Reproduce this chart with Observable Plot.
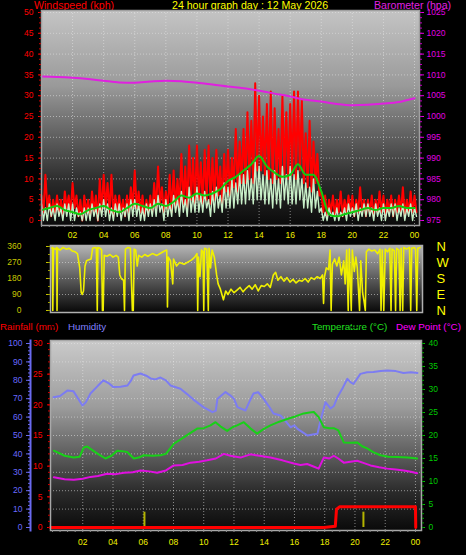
<!DOCTYPE html>
<html><head><meta charset="utf-8">
<script src="https://cdn.jsdelivr.net/npm/d3@7"></script>
<script src="https://cdn.jsdelivr.net/npm/@observablehq/plot@0.6"></script>
<style>
html,body{margin:0;padding:0;background:#000;}
#wrap{position:relative;width:466px;height:555px;background:#000;overflow:hidden;font-family:"Liberation Sans",Arial,sans-serif;}
.hdr{position:absolute;font-size:10.6px;line-height:11px;white-space:nowrap;}
.hdr2{position:absolute;font-size:9.8px;line-height:11px;white-space:nowrap;}
.panel{position:absolute;left:0;}
</style></head><body>
<div id="wrap">
  <div class="hdr" style="left:34px;top:0px;color:#ff0000">Windspeed (kph)</div>
  <div class="hdr" style="left:172px;top:0px;color:#ffff00">24 hour graph day : 12 May 2026</div>
  <div class="hdr" style="left:374px;top:0px;color:#e020e0">Barometer (hpa)</div>
  <div class="hdr2" style="left:0px;top:321px;color:#ff0000">Rainfall (mm)</div>
  <div class="hdr2" style="left:68px;top:321px;color:#8080ff">Humidity</div>
  <div class="hdr2" style="left:312px;top:321px;color:#20e020">Temperature (°C)</div>
  <div class="hdr2" style="left:396px;top:321px;color:#ff00ff">Dew Point (°C)</div>
  <div id="pTop" class="panel" style="top:0px"></div>
  <div id="pMid" class="panel" style="top:240px"></div>
  <div id="pBot" class="panel" style="top:335px"></div>
</div>
<script>
// ---------------- DATA ----------------
// Wind (kph), sampled every 15 minutes from 00:00 to 24:00 : per-interval high / low
const windStepHours = 0.25;
const gustHi = [6,11,6,5, 6,5,7,6, 9,6,5,6, 5,7,6,10, 11,9,11,6, 6,5,6,8, 12,7,6,5, 6,9,13,8,
  7,11,12,10, 16,13,18,15, 18,14,17,18, 15,17,13,16, 17,15,22,19, 22,26,24,33, 30,25,28,31,
  27,22,30,26, 28,31,31,29, 21,24,19,16, 7,6,5,6, 5,7,5,6, 6,5,8,5, 5,6,5,7, 6,5,6,5, 6,8,5,7, 6];
const gustLo = [2,3,1,2, 2,1,3,2, 3,1,0,2, 1,2,0,2, 3,2,1,2, 2,1,2,3, 3,2,1,2, 2,3,4,2,
  3,2,3,3, 4,3,5,4, 5,4,5,4, 5,6,4,7, 6,8,7,9, 9,10,9,12, 12,11,10,9,
  10,9,11,10, 11,10,12,9, 8,7,9,6, 2,1,2,1, 2,1,2,2, 1,2,2,1, 2,1,2,2, 1,2,1,2, 2,1,2,2, 2];
const avgHi = [4,3,4,3, 4,3,4,4, 4,3,2,3, 3,4,3,4, 5,4,3,4, 4,3,4,5, 5,4,3,4, 4,5,6,4,
  5,4,6,5, 7,5,8,6, 8,6,7,5, 7,8,6,9, 8,10,9,11, 11,12,10,14, 13,11,12,10,
  12,10,13,11, 13,11,12,10, 9,8,10,7, 3,2,3,2, 3,2,3,4, 3,4,3,4, 4,3,4,3, 4,3,4,4, 3,4,3,4, 3];
const avgLo = [0,0,1,0, 1,0,1,0, 0,1,0,0, 0,1,0,1, 1,0,0,1, 0,1,0,1, 1,0,0,1, 1,1,2,0,
  1,1,2,1, 2,1,2,2, 2,2,3,1, 2,3,2,3, 3,3,4,4, 4,5,4,5, 5,4,4,3,
  4,3,5,4, 4,4,5,3, 3,2,3,2, 0,0,1,0, 0,1,0,1, 1,0,1,1, 1,0,1,0, 0,1,1,0, 1,0,1,0, 1];
// Smoothed wind speed (kph), every 30 minutes
const smoothStepHours = 0.5;
const windSmooth = [2.5,3,3.5,2.5,2,1.5,2.5,3,3.5,2.5,2,3,4,3.5,3,4,3.5,4.5,6,5.5,6.5,6,6.5,7.5,
  9.5,10.5,12,13.5,15.5,13,11.5,10.5,11,13.5,11,11,7,1.5,1,1.5,2,2.5,3,2.5,3,3,3.5,3,3];
// Barometer (hPa), hourly
const baroStepHours = 1;
const barometer = [1009.6,1009.5,1009.3,1009.0,1008.6,1008.2,1008.1,1008.4,1008.6,1008.5,1008.1,
  1007.7,1007.2,1006.8,1006.2,1005.5,1004.8,1004.0,1003.6,1003.0,1002.7,1002.8,1003.1,1003.5,1004.4];

// Wind direction (degrees)
const dirHour = [-0.1,0,0.02,0.06,0.2,0.28,0.3,0.33,0.5,0.7,0.9,1.1,1.3,1.5,1.65,1.8,1.9,1.96,2.05,2.15,
  2.25,2.4,2.55,2.65,2.8,2.9,2.96,3,3.15,3.25,3.3,3.35,3.42,3.6,3.8,4,4.2,4.35,4.45,4.55,
  4.7,4.76,4.82,5,5.15,5.28,5.34,5.4,5.5,5.6,5.7,5.9,6.1,6.3,6.6,6.9,7.2,7.4,7.55,7.6,
  7.65,7.8,7.95,8,8.2,8.4,8.7,9,9.2,9.4,9.55,9.6,9.65,9.75,9.85,9.95,10,10.05,10.2,10.3,
  10.35,10.45,10.55,10.7,10.85,10.95,11.1,11.3,11.45,11.6,11.8,12,12.2,12.4,12.6,12.8,13,13.2,13.4,13.6,
  13.8,14,14.2,14.4,14.6,14.75,14.9,15.1,15.3,15.5,15.7,15.9,16.1,16.3,16.5,16.7,16.9,17.1,17.3,17.5,
  17.7,17.85,17.92,17.98,18.1,18.25,18.35,18.42,18.5,18.65,18.8,18.95,19.1,19.25,19.35,19.45,19.55,19.62,19.75,19.82,
  19.95,20.05,20.15,20.3,20.38,20.5,20.6,20.68,20.75,20.9,21.1,21.3,21.5,21.65,21.72,21.8,21.9,22,22.15,22.3,
  22.38,22.45,22.6,22.68,22.75,22.9,22.98,23.05,23.15,23.22,23.4,23.6,23.68,23.75,23.9,24,24.08,24.15,24.3];
const dirDeg = [350,355,0,350,345,355,0,350,340,355,345,350,335,330,320,240,100,90,110,250,
  280,285,290,350,355,350,0,355,350,340,0,0,310,305,315,300,310,300,200,180,
  170,0,345,355,350,0,0,345,340,250,310,300,315,305,320,310,325,335,340,20,
  300,280,150,290,250,270,260,275,285,300,320,0,300,190,340,330,0,350,345,0,
  350,240,340,300,200,150,120,60,110,90,120,100,115,130,105,125,140,120,145,110,
  140,135,150,130,200,215,170,190,165,185,160,175,155,170,165,180,160,185,175,190,
  180,200,40,190,240,230,340,0,260,290,250,300,200,280,150,340,0,345,0,340,
  220,300,240,0,280,100,50,0,330,345,335,340,320,345,0,340,0,345,330,350,
  0,345,335,0,350,340,0,350,0,355,345,355,0,350,355,345,0,350,355];

// Humidity (%)
const humHour = [0.07,0.5,1,1.39,1.7,1.98,2.2,2.51,3,3.37,3.7,4.03,4.5,4.96,5.2,5.36,5.82,6.2,6.48,6.8,
  7.14,7.5,7.8,8.46,8.9,9.32,9.98,10.58,10.8,10.91,11.44,11.77,12,12.23,12.5,12.76,13,13.29,13.6,13.95,
  14.3,14.61,15.07,15.4,15.74,16,16.2,16.5,16.86,17.2,17.52,17.72,18.05,18.38,18.6,18.84,19.2,19.5,19.7,19.9,
  20.36,20.8,21.22,21.7,22.15,22.7,23.21,23.7,24.13];
const humVal = [70.8,71.5,74.5,74,70,66.3,68,72.8,77,80,78.5,76.3,76.5,77.2,80,82.6,83.7,82.5,81,80.5,
  81.5,80,77.2,75.4,72.5,69.5,65.4,62.7,63.5,70,73.6,71.7,69.9,65.4,64.5,63.6,68,72.8,73.5,70,
  66,62,60.9,58,54.5,55.5,53.6,52,50,50.5,51,58.2,68.1,64.7,66,70.8,76,80.8,79,78,
  83.5,84.4,84.5,85,85.3,85,84,84.4,84];
// Temperature (°C)
const tempHour = [0.09,0.8,1.41,1.8,2.07,2.3,2.51,3,3.5,3.9,4.28,4.6,4.94,5.38,5.7,6.04,6.6,7.14,7.5,8.02,
  8.68,9.1,9.57,10,10.45,10.78,11.1,11.55,11.9,12.21,12.65,13.1,13.53,14,14.41,15,15.52,16.1,16.61,17,
  17.28,17.6,17.94,18.3,18.6,18.9,19.26,19.7,20.15,20.5,20.81,21.2,21.69,22.2,22.79,23.5,24.11];
const tempVal = [16.7,15.6,15.2,15.4,17.4,17.6,17.1,16,15,15.6,16.7,16.6,16.4,15,15.2,15.7,15.6,15.7,16,18.2,
  19.6,20.5,21.5,21.6,22.2,22.9,22,21,21.8,22.2,22.9,21.5,20.4,21.5,22.2,23,23.6,24.2,24.8,25,
  25.1,24,21.8,21.6,21.6,21.1,18.5,18.4,18.5,17.6,17.2,16.4,15.7,15.4,15.3,15.2,15];
// Dew point (°C)
const dewHour = [0.09,0.8,1.41,2,2.51,3,3.61,4.2,4.72,5.3,5.82,6.4,6.92,7.5,8.02,8.6,9.13,9.7,10.23,10.8,
  11.33,11.77,12.43,13.09,13.7,14.41,15.2,15.96,16.4,16.84,17.3,17.6,17.94,18.3,18.6,18.9,19.26,19.7,20.15,20.6,
  21.03,21.6,22.13,22.7,23.23,23.7,24.11];
const dewVal = [10.9,10.5,10.4,10.6,11,11.2,11.7,11.6,11.9,12,12.4,12.2,11.9,12.4,13.5,13.6,14.1,14.3,14.6,15,
  16,15.6,15.2,15.9,15.6,15.2,14.6,13.9,13.6,13.8,13.2,12.8,15.2,15,15.6,15,14.1,14.3,14.5,14,
  13.5,13.1,12.8,12.6,12.4,12.1,11.8];
// Rainfall accumulation (mm)
const rainHour = [-0.13,17.95,18.7,18.78,19.0,24.0,24.02];
const rainVal = [0,0,0.2,3.0,3.4,3.4,0];
// Rain rate bars
const rateHour = [6.08,20.56];
const rateVal = [2.5,2.5];

// Tick labels
const hourTicks = [2,4,6,8,10,12,14,16,18,20,22,24];
const hourLabel = d => String(d % 24).padStart(2, "0");
const compass = {0: "N", 90: "E", 180: "S", 270: "W", 360: "N"};

// ---------------- HELPERS ----------------
const FONT = "Liberation Sans, Arial, sans-serif";
const baseStyle = {background: "transparent", fontFamily: FONT, fontSize: "8.5px", overflow: "visible"};
function addGradient(svg, id, stops) {
  const g = d3.select(svg).insert("defs", ":first-child").append("linearGradient")
    .attr("id", id).attr("x1", 0).attr("y1", 0).attr("x2", 0).attr("y2", 1);
  stops.forEach(([o, c]) => g.append("stop").attr("offset", o).attr("stop-color", c));
}
const gridStyle = {stroke: "#e8e8e8", strokeOpacity: 0.55, strokeDasharray: "1,2"};

// ---------------- TOP PANEL ----------------
const gust = gustHi.flatMap((v, i) => [{h: i * windStepHours, v}, {h: i * windStepHours + windStepHours / 2, v: gustLo[i]}]);
const avgw = avgHi.flatMap((v, i) => [{h: i * windStepHours, v}, {h: i * windStepHours + windStepHours / 2, v: avgLo[i]}]);
const BARO0 = 975;

const topSvg = Plot.plot({
  width: 466, height: 245,
  marginLeft: 41, marginRight: 47, marginTop: 10, marginBottom: 20,
  x: {domain: [0, 24.32], label: null},
  y: {domain: [-1.2, 50.48], label: null},
  style: baseStyle,
  marks: [
    Plot.frame({fill: "url(#gTop)", stroke: null}),
    Plot.gridY(d3.range(5, 51, 5), gridStyle),
    Plot.gridX(hourTicks, gridStyle),
    Plot.line(gust, {x: "h", y: "v", stroke: "#ff0000", strokeWidth: 2}),
    Plot.line(avgw, {x: "h", y: "v", stroke: "#c8efc8", strokeWidth: 1.4}),
    Plot.line(windSmooth, {x: (d, i) => i * smoothStepHours, y: d => d, stroke: "#10cc10", strokeWidth: 2, curve: "monotone-x"}),
    Plot.line(barometer, {x: (d, i) => i * baroStepHours, y: d => d - BARO0, stroke: "#e020e0", strokeWidth: 2, curve: "monotone-x"}),
    Plot.frame({stroke: "#a0a0a0", strokeWidth: 1.5}),
    Plot.axisY(d3.range(0, 51, 5), {anchor: "left", tickSize: 3, tickPadding: 5, fill: "#ff0000", stroke: "#ff0000", label: null}),
    Plot.axisY(d3.range(0, 50.1, 1.25), {anchor: "left", tickSize: 2, tickFormat: () => "", stroke: "#d00000", label: null}),
    Plot.axisY(d3.range(0, 51, 5), {anchor: "right", tickSize: 4, tickPadding: 3, tickFormat: d => String(d + BARO0), fill: "#e000e0", stroke: "#e000e0", label: null}),
    Plot.axisY(d3.range(0, 50.1, 1.25), {anchor: "right", tickSize: 2, tickFormat: () => "", stroke: "#c000c0", label: null}),
    Plot.axisX(d3.range(0, 24.3, 0.5), {tickSize: 2, tickFormat: () => "", stroke: "#909090", label: null}),
    Plot.axisX(hourTicks, {tickSize: 0, tickPadding: 6, tickFormat: hourLabel, fill: "#f0f000", label: null})
  ]
});
addGradient(topSvg, "gTop", [[0, "#c4c4c4"], [0.35, "#9a9a9a"], [0.6, "#5c5c5c"], [0.8, "#2a2a2a"], [1, "#0a0a0a"]]);
document.getElementById("pTop").append(topSvg);

// ---------------- MIDDLE PANEL ----------------
const midSvg = Plot.plot({
  width: 466, height: 80,
  marginLeft: 50, marginRight: 44, marginTop: 5, marginBottom: 8,
  x: {domain: [-0.132, 24.46], label: null},
  y: {domain: [-11.25, 365.6], label: null},
  style: baseStyle,
  marks: [
    Plot.frame({fill: "url(#gMid)", stroke: null}),
    Plot.gridY([90, 180, 270], gridStyle),
    Plot.line(dirDeg, {x: (d, i) => dirHour[i], y: d => d, stroke: "#f0f000", strokeWidth: 1.6}),
    Plot.frame({stroke: "#b0b0b0", strokeWidth: 1.5}),
    Plot.axisY([0, 90, 180, 270, 360], {anchor: "left", tickSize: 4, tickPadding: 25, fill: "#c8c800", stroke: "#c8c800", label: null}),
    Plot.axisY(d3.range(0, 361, 45), {anchor: "left", tickSize: 2, tickFormat: () => "", stroke: "#a0a000", label: null}),
    Plot.axisY([0, 90, 180, 270, 360], {anchor: "right", tickSize: 0, tickPadding: 14, tickFormat: d => compass[d], fill: "#ffff00", fontSize: 13, label: null})
  ]
});
addGradient(midSvg, "gMid", [[0, "#b4b4b4"], [0.5, "#5a5a5a"], [1, "#080808"]]);
document.getElementById("pMid").append(midSvg);

// ---------------- BOTTOM PANEL ----------------
const RAIN_K = 100 / 30;  // rain mm -> humidity-scale units
const TEMP_K = 100 / 40;  // temperature °C -> humidity-scale units
const botSvg = Plot.plot({
  width: 466, height: 220,
  marginLeft: 50, marginRight: 45, marginTop: 5, marginBottom: 25,
  x: {domain: [-0.132, 24.4], label: null},
  y: {domain: [-1.63, 101.63], label: null},
  style: baseStyle,
  marks: [
    Plot.frame({fill: "url(#gBot)", stroke: null}),
    Plot.gridY(d3.range(10, 101, 10), gridStyle),
    Plot.gridX(hourTicks, gridStyle),
    Plot.ruleX(rateVal, {x: (d, i) => rateHour[i], y1: 0, y2: d => d * RAIN_K, stroke: "#b4b400", strokeWidth: 2}),
    Plot.line(humVal, {x: (d, i) => humHour[i], y: d => d, stroke: "#7c7cf2", strokeWidth: 2}),
    Plot.line(tempVal, {x: (d, i) => tempHour[i], y: d => d * TEMP_K, stroke: "#18d018", strokeWidth: 2}),
    Plot.line(dewVal, {x: (d, i) => dewHour[i], y: d => d * TEMP_K, stroke: "#e010e0", strokeWidth: 2}),
    Plot.line(rainVal, {x: (d, i) => rainHour[i], y: d => d * RAIN_K, stroke: "#ff0000", strokeWidth: 3}),
    Plot.frame({stroke: "#a8a8a8", strokeWidth: 1.5}),
    Plot.frame({anchor: "left", dx: -20, stroke: "#6a6af0", strokeWidth: 2}),
    Plot.axisY(d3.range(0, 101, 10), {anchor: "left", dx: -19, tickSize: 5, tickPadding: 4, fill: "#6a6aff", stroke: "#6a6af0", label: null}),
    Plot.axisY(d3.range(0, 101, 2), {anchor: "left", dx: -19, tickSize: 3, tickFormat: () => "", stroke: "#6a6af0", label: null}),
    Plot.axisY(d3.range(0, 31, 5).map(r => r * RAIN_K), {anchor: "left", tickSize: 3, tickPadding: 5, tickFormat: d => Math.round(d / RAIN_K), fill: "#ff0000", stroke: "#ff0000", label: null}),
    Plot.axisY(d3.range(0, 31, 1).map(r => r * RAIN_K), {anchor: "left", tickSize: 2, tickFormat: () => "", stroke: "#d00000", label: null}),
    Plot.axisY(d3.range(0, 41, 5).map(t => t * TEMP_K), {anchor: "right", tickSize: 3, tickPadding: 4, tickFormat: d => Math.round(d / TEMP_K), fill: "#00c800", stroke: "#00c800", label: null}),
    Plot.axisY(d3.range(0, 41, 1).map(t => t * TEMP_K), {anchor: "right", tickSize: 2, tickFormat: () => "", stroke: "#00a000", label: null}),
    Plot.axisX(d3.range(0, 24.3, 0.5), {tickSize: 2, tickFormat: () => "", stroke: "#909090", label: null}),
    Plot.axisX(hourTicks, {tickSize: 0, tickPadding: 8, tickFormat: hourLabel, fill: "#f0f000", label: null})
  ]
});
addGradient(botSvg, "gBot", [[0, "#cacaca"], [0.35, "#9c9c9c"], [0.6, "#5e5e5e"], [0.8, "#2a2a2a"], [1, "#0a0a0a"]]);
document.getElementById("pBot").append(botSvg);
</script>
</body></html>
